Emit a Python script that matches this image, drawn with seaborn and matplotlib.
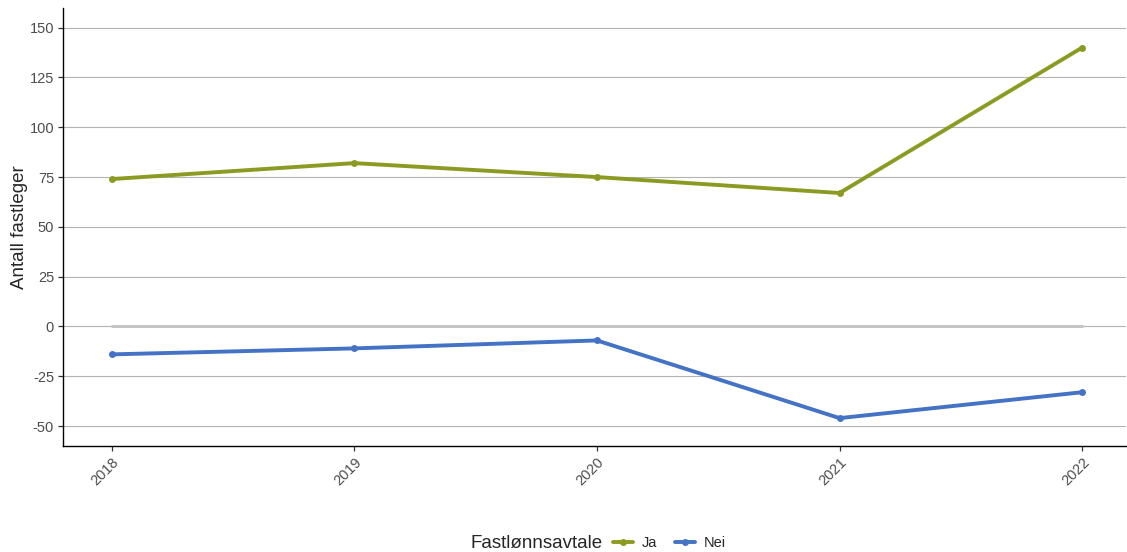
import matplotlib.pyplot as plt
import seaborn as sns
import pandas as pd

# endring i antall fastleger per år, etter fastlønnsavtale
years = ['2018', '2019', '2020', '2021', '2022']
ja = [74, 82, 75, 67, 140]
nei = [-14, -11, -7, -46, -33]
y_ticks = [-50, -25, 0, 25, 50, 75, 100, 125, 150]

df = pd.DataFrame({
    'aar': years * 2,
    'antall': ja + nei,
    'Fastlønnsavtale': ['Ja'] * len(years) + ['Nei'] * len(years),
})

sns.set_style('ticks')
plt.rcParams['font.family'] = ['Liberation Sans', 'DejaVu Sans']
plt.rcParams['axes.unicode_minus'] = False

fig = plt.figure(figsize=(11.27, 5.52), dpi=100)
ax = fig.add_axes([0.056, 0.192, 0.943, 0.794])

for yt in y_ticks:
    ax.axhline(yt, color='#b3b3b3', linewidth=0.8, zorder=0)

# grå nullinje bare mellom første og siste år
sns.lineplot(x=years, y=[0] * len(years), color='#c4c4c4', linewidth=2.2, ax=ax, zorder=1)

palette = {'Ja': '#8b9b22', 'Nei': '#4472c4'}
sns.lineplot(data=df, x='aar', y='antall', hue='Fastlønnsavtale', palette=palette,
             linewidth=2.8, marker='o', markersize=5, markeredgewidth=0, ax=ax,
             legend=False, zorder=3)

ax.set_xlim(-0.2, 4.18)
ax.set_ylim(-60, 160)
ax.set_yticks(y_ticks)
ax.set_xlabel('')
ax.set_ylabel('Antall fastleger', fontsize=13.5, labelpad=1)
ax.tick_params(axis='both', labelsize=10.5, labelcolor='#4d4d4d', length=3.5, width=0.9,
               color='#333333', left=True, bottom=True, pad=3)
plt.setp(ax.get_xticklabels(), rotation=45, ha='right', rotation_mode='anchor')
for side in ['top', 'right']:
    ax.spines[side].set_visible(False)
for side in ['left', 'bottom']:
    ax.spines[side].set_color('black')
    ax.spines[side].set_linewidth(1.0)

# legend nederst med tittel på samme linje
handles = [plt.Line2D([], [], color=palette[k], linewidth=2.8, marker='o', markersize=4) for k in ['Ja', 'Nei']]
fig.text(0.535, 0.0, 'Fastlønnsavtale', fontsize=13.5, ha='right', va='bottom')
fig.legend(handles, ['Ja', 'Nei'], loc='lower left', bbox_to_anchor=(0.532, -0.021), ncol=2,
           frameon=False, fontsize=10.5, handlelength=1.4, columnspacing=1.2, handletextpad=0.6)

plt.savefig('out.png', dpi=100)
